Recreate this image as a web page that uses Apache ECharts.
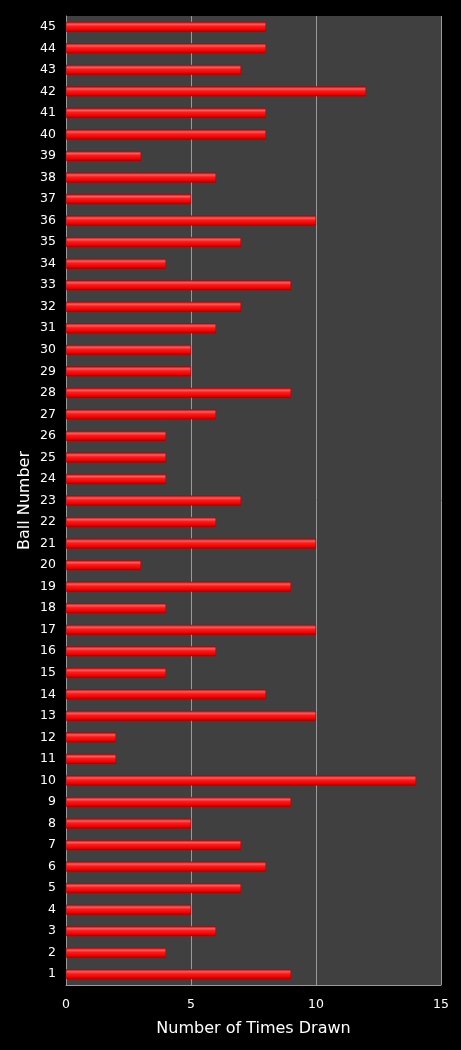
<!DOCTYPE html>
<html>
<head>
<meta charset="utf-8">
<script src="https://cdn.jsdelivr.net/npm/echarts@6/dist/echarts.min.js"></script>
<style>
html, body { margin: 0; padding: 0; background: #000; }
#chart { width: 461px; height: 1050px; }
</style>
</head>
<body>
<div id="chart"></div>
<script>
// ball numbers 1..45 and how often each was drawn
var balls = ['1','2','3','4','5','6','7','8','9','10','11','12','13','14','15','16','17','18','19','20',
    '21','22','23','24','25','26','27','28','29','30','31','32','33','34','35','36','37','38','39','40',
    '41','42','43','44','45'];
var timesDrawn = [9,4,6,5,7,8,7,5,9,14,2,2,10,8,4,6,10,4,9,3,
    10,6,7,4,4,4,6,9,5,5,6,7,9,4,7,10,5,6,3,8,
    8,12,7,8,8];
var xTicks = [0, 5, 10, 15];

var chart = echarts.init(document.getElementById('chart'));

// red bar with a glossy highlight band
var barColor = new echarts.graphic.LinearGradient(0, 0, 0, 1, [
    { offset: 0, color: '#c00000' },
    { offset: 0.25, color: '#ff5a5a' },
    { offset: 0.45, color: '#ff1a1a' },
    { offset: 0.8, color: '#f00000' },
    { offset: 1, color: '#a00000' }
]);

var option = {
    backgroundColor: '#000',
    animation: false,
    textStyle: { fontFamily: 'DejaVu Sans' },
    grid: {
        left: 66, right: 20, top: 16, bottom: 65,
        show: true,
        backgroundColor: '#404040',
        borderWidth: 0
    },
    xAxis: {
        type: 'value',
        min: xTicks[0],
        max: xTicks[xTicks.length - 1],
        interval: 5,
        name: 'Number of Times Drawn',
        nameLocation: 'middle',
        nameGap: 36,
        nameTextStyle: { color: '#fff', fontSize: 16 },
        axisLine: { show: true, lineStyle: { color: '#9a9a9a', width: 1 } },
        axisTick: { show: false },
        axisLabel: { color: '#fff', fontSize: 12.5, margin: 13 },
        splitLine: { show: true, lineStyle: { color: '#9a9a9a', width: 1 } }
    },
    yAxis: {
        type: 'category',
        data: balls,
        name: 'Ball Number',
        nameLocation: 'middle',
        nameGap: 33,
        nameMoveOverlap: false,
        nameTextStyle: { color: '#fff', fontSize: 16 },
        axisLine: { show: true, lineStyle: { color: '#9a9a9a', width: 1 } },
        axisTick: { show: false },
        axisLabel: { color: '#fff', fontSize: 12.5, margin: 10 },
        splitLine: { show: false }
    },
    series: [{
        type: 'bar',
        data: timesDrawn,
        barWidth: 10,
        itemStyle: {
            color: barColor,
            borderColor: '#b00000',
            borderWidth: 0.5
        }
    }]
};

chart.setOption(option);
window.onresize = function () {
    chart.resize();
};
</script>
</body>
</html>
